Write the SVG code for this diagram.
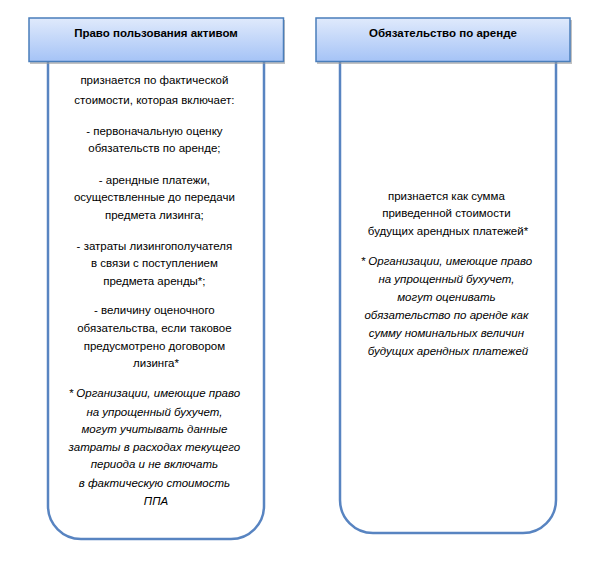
<svg xmlns="http://www.w3.org/2000/svg" width="600" height="563" viewBox="0 0 600 563">
<defs>
<linearGradient id="hg" x1="0" y1="0" x2="0" y2="1">
<stop offset="0" stop-color="#e0eafc"/>
<stop offset="1" stop-color="#a5c3f6"/>
</linearGradient>
<style>
.body{fill:#ffffff;stroke:#5884c1;stroke-width:2.5}
.hdr{fill:url(#hg);stroke:#4a7ebb;stroke-width:1.5}
.shd{fill:#9a9a9a;opacity:0.6}
.t{font-family:"Liberation Sans",Arial,sans-serif;font-size:11.5px;fill:#000;text-anchor:middle}
.b{font-weight:bold}
.i{font-style:italic}
</style>
</defs>
<rect width="600" height="563" fill="#ffffff"/>
<g id="node-left">
<path class="body" d="M48,55 V506 A33,33 0 0 0 81,539 H231 A33,33 0 0 0 264,506 V55"/>
<rect class="shd" x="30" y="20" width="255" height="44"/>
<rect class="hdr" x="29" y="18" width="254.5" height="43.5"/>
<text class="t b" x="156" y="37">Право пользования активом</text>
<text class="t" x="156">
<tspan x="156" y="84">признается по фактической</tspan>
<tspan x="156" y="104">стоимости, которая включает:</tspan>
<tspan x="156" y="135">- первоначальную оценку</tspan>
<tspan x="156" y="152">обязательств по аренде;</tspan>
<tspan x="156" y="184">- арендные платежи,</tspan>
<tspan x="156" y="201">осуществленные до передачи</tspan>
<tspan x="156" y="219">предмета лизинга;</tspan>
<tspan x="156" y="250">- затраты лизингополучателя</tspan>
<tspan x="156" y="267">в связи с поступлением</tspan>
<tspan x="156" y="285">предмета аренды*;</tspan>
<tspan x="156" y="314">- величину оценочного</tspan>
<tspan x="156" y="332">обязательства, если таковое</tspan>
<tspan x="156" y="350">предусмотрено договором</tspan>
<tspan x="156" y="367">лизинга*</tspan>
</text>
<text class="t i" x="156">
<tspan x="156" y="397">* Организации, имеющие право</tspan>
<tspan x="156" y="416">на упрощенный бухучет,</tspan>
<tspan x="156" y="433">могут учитывать данные</tspan>
<tspan x="156" y="451">затраты в расходах текущего</tspan>
<tspan x="156" y="468">периода и не включать</tspan>
<tspan x="156" y="487">в фактическую стоимость</tspan>
<tspan x="156" y="505">ППА</tspan>
</text>
</g>
<g id="node-right">
<path class="body" d="M340,55 V500 A33,33 0 0 0 373,533 H523 A33,33 0 0 0 556,500 V55"/>
<rect class="shd" x="317" y="20" width="255" height="44"/>
<rect class="hdr" x="316" y="18" width="254" height="43.5"/>
<text class="t b" x="443" y="37">Обязательство по аренде</text>
<text class="t" x="448">
<tspan x="448" y="200">признается как сумма</tspan>
<tspan x="448" y="217">приведенной стоимости</tspan>
<tspan x="448" y="235">будущих арендных платежей*</tspan>
</text>
<text class="t i" x="448">
<tspan x="448" y="265">* Организации, имеющие право</tspan>
<tspan x="448" y="283">на упрощенный бухучет,</tspan>
<tspan x="448" y="301">могут оценивать</tspan>
<tspan x="448" y="319">обязательство по аренде как</tspan>
<tspan x="448" y="337">сумму номинальных величин</tspan>
<tspan x="448" y="355">будущих арендных платежей</tspan>
</text>
</g>
<g id="connectors"></g>
</svg>
